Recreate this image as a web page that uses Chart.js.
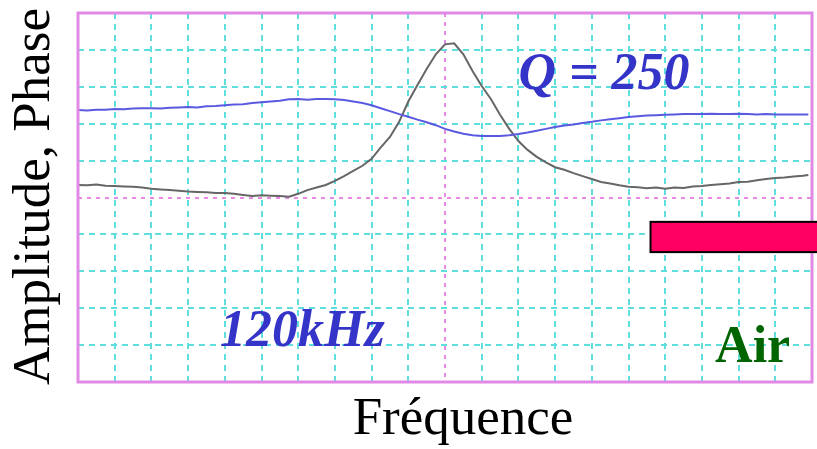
<!DOCTYPE html>
<html>
<head>
<meta charset="utf-8">
<title>Amplitude, Phase - Air</title>
<script src="https://cdn.jsdelivr.net/npm/chart.js@4.4.1/dist/chart.umd.min.js"></script>
<style>
  html, body { margin: 0; padding: 0; background: #ffffff; }
  #wrap { width: 817px; height: 449px; }
</style>
</head>
<body>
<div id="wrap"><canvas id="resonanceChart" width="817" height="449"></canvas></div>
<script>
// Frequency axis, in screen divisions (20 across)
const freq = [
  0, 0.25, 0.5, 0.75, 1, 1.25, 1.5, 1.75, 2, 2.25, 2.5, 2.75, 3, 3.25, 3.5, 3.75,
  4, 4.25, 4.5, 4.75, 5, 5.25, 5.5, 5.75, 6, 6.25, 6.5, 6.75, 7, 7.25, 7.5, 7.75,
  8, 8.25, 8.5, 8.75, 9, 9.25, 9.5, 9.75, 10, 10.25, 10.5, 10.75, 11, 11.25, 11.5, 11.75,
  12, 12.25, 12.5, 12.75, 13, 13.25, 13.5, 13.75, 14, 14.25, 14.5, 14.75, 15, 15.25, 15.5, 15.75,
  16, 16.25, 16.5, 16.75, 17, 17.25, 17.5, 17.75, 18, 18.25, 18.5, 18.75, 19, 19.25, 19.5, 19.75, 19.9
];

// Amplitude trace (grey), in screen divisions (10 high)
const amplitude = [
  5.34, 5.33, 5.35, 5.32, 5.31, 5.30, 5.29, 5.27, 5.24, 5.22, 5.20, 5.18, 5.16, 5.15, 5.14, 5.12,
  5.12, 5.10, 5.07, 5.04, 5.06, 5.05, 5.04, 5.02, 5.10, 5.20, 5.27, 5.34, 5.45, 5.58, 5.72, 5.86,
  6.05, 6.36, 6.64, 7.05, 7.60, 8.05, 8.48, 8.88, 9.15, 9.18, 8.88, 8.43, 8.02, 7.67, 7.24, 6.86,
  6.53, 6.29, 6.10, 5.95, 5.82, 5.75, 5.66, 5.58, 5.50, 5.42, 5.38, 5.33, 5.29, 5.28, 5.25, 5.27,
  5.24, 5.27, 5.26, 5.30, 5.31, 5.34, 5.36, 5.38, 5.42, 5.43, 5.47, 5.50, 5.53, 5.54, 5.57, 5.59, 5.61
];

// Phase trace (blue), in screen divisions
const phase = [
  7.37, 7.36, 7.38, 7.38, 7.40, 7.39, 7.41, 7.42, 7.42, 7.41, 7.43, 7.44, 7.45, 7.44, 7.47, 7.48,
  7.50, 7.52, 7.53, 7.56, 7.58, 7.60, 7.62, 7.66, 7.67, 7.65, 7.67, 7.67, 7.66, 7.64, 7.60, 7.56,
  7.50, 7.42, 7.34, 7.26, 7.19, 7.11, 7.04, 6.96, 6.86, 6.79, 6.73, 6.69, 6.67, 6.67, 6.67, 6.69,
  6.72, 6.76, 6.81, 6.86, 6.91, 6.95, 6.98, 7.02, 7.05, 7.09, 7.12, 7.15, 7.18, 7.20, 7.22, 7.23,
  7.24, 7.25, 7.26, 7.26, 7.26, 7.27, 7.26, 7.26, 7.27, 7.26, 7.25, 7.26, 7.25, 7.25, 7.25, 7.25, 7.25
];

// Screen graticule
const xDivisions = 20;
const yDivisions = 10;

// Axis titles
const xTitle = 'Fréquence';
const yTitle = 'Amplitude, Phase';

// Text placed on the screen: [text, x, y] in divisions
const labelQ = ['Q = 250', 12.0, 7.94];
const labelFreq = ['120kHz', 3.87, 0.98];
const labelMedium = ['Air', 17.36, 0.54];
// Red marker bar: [x start, y top, y bottom]
const markerBar = [15.6, 4.34, 3.52];

const CYAN = '#5fdede';
const MAGENTA = '#e68ae6';
const FRAME = '#e08ae6';
const SERIF = '"Liberation Serif", "Times New Roman", serif';

/**
 * Draws the axis titles, the screen frame, the captions and the red bar
 */
const screenOverlay = {
  id: 'screenOverlay',
  afterDatasetsDraw(chart) {
    const { ctx, chartArea: a, scales: { x, y } } = chart;
    ctx.save();
    ctx.textAlign = 'left';
    ctx.textBaseline = 'alphabetic';

    ctx.font = `italic bold 52px ${SERIF}`;
    ctx.fillStyle = '#3434c8';
    ctx.fillText(labelQ[0], x.getPixelForValue(labelQ[1]), y.getPixelForValue(labelQ[2]));
    ctx.fillText(labelFreq[0], x.getPixelForValue(labelFreq[1]), y.getPixelForValue(labelFreq[2]));

    ctx.font = `bold 52px ${SERIF}`;
    ctx.fillStyle = '#006400';
    ctx.fillText(labelMedium[0], x.getPixelForValue(labelMedium[1]), y.getPixelForValue(labelMedium[2]));

    // axis titles sit a little off-centre in the original
    ctx.fillStyle = '#000000';
    ctx.font = `53px ${SERIF}`;
    ctx.textAlign = 'center';
    ctx.fillText(xTitle, (a.left + a.right) / 2 + 18, a.bottom + 52);

    ctx.translate(a.left - 29, (a.top + a.bottom) / 2 - 1);
    ctx.rotate(-Math.PI / 2);
    ctx.fillText(yTitle, 0, 0);
    ctx.restore();
  },
  afterDraw(chart) {
    const { ctx, chartArea: a, scales: { x, y } } = chart;
    ctx.save();
    // pink frame round the screen
    ctx.strokeStyle = FRAME;
    ctx.lineWidth = 3;
    ctx.strokeRect(a.left, a.top, a.right - a.left, a.bottom - a.top);

    // red bar, runs off the right edge
    const x0 = x.getPixelForValue(markerBar[0]);
    const y0 = y.getPixelForValue(markerBar[1]);
    const y1 = y.getPixelForValue(markerBar[2]);
    ctx.fillStyle = '#ff0062';
    ctx.fillRect(x0, y0, chart.width - x0 + 2, y1 - y0);
    ctx.strokeStyle = '#000000';
    ctx.lineWidth = 2;
    ctx.strokeRect(x0, y0, chart.width - x0 + 2, y1 - y0);
    ctx.restore();
  }
};

/**
 * Grid options shared by both axes; the centre line is magenta
 */
function gridFor(centre) {
  return {
    color: c => (c.tick && c.tick.value === centre ? MAGENTA : CYAN),
    lineWidth: 2,
    drawTicks: false
  };
}

function borderFor(centre) {
  return {
    display: false,
    dash: c => (c.tick && c.tick.value === centre ? [4, 5] : [6, 5])
  };
}

const ctx = document.getElementById('resonanceChart').getContext('2d');

new Chart(ctx, {
  type: 'line',
  data: {
    datasets: [
      {
        label: 'Phase',
        data: freq.map((f, i) => ({ x: f, y: phase[i] })),
        borderColor: '#5a5ae0',
        borderWidth: 2,
        pointRadius: 0,
        tension: 0
      },
      {
        label: 'Amplitude',
        data: freq.map((f, i) => ({ x: f, y: amplitude[i] })),
        borderColor: '#666666',
        borderWidth: 2,
        pointRadius: 0,
        tension: 0
      }
    ]
  },
  options: {
    responsive: false,
    animation: false,
    devicePixelRatio: 1,
    layout: { padding: { top: 13, right: 5, left: 0, bottom: 0 } },
    plugins: {
      legend: { display: false },
      tooltip: { enabled: false }
    },
    scales: {
      x: {
        type: 'linear',
        min: 0,
        max: xDivisions,
        ticks: { display: false, stepSize: 1 },
        grid: gridFor(xDivisions / 2),
        border: borderFor(xDivisions / 2),
        afterFit: scale => { scale.height = 67; }
      },
      y: {
        type: 'linear',
        min: 0,
        max: yDivisions,
        ticks: { display: false, stepSize: 1 },
        grid: gridFor(yDivisions / 2),
        border: borderFor(yDivisions / 2),
        afterFit: scale => { scale.width = 78; }
      }
    }
  },
  plugins: [screenOverlay]
});
</script>
</body>
</html>
